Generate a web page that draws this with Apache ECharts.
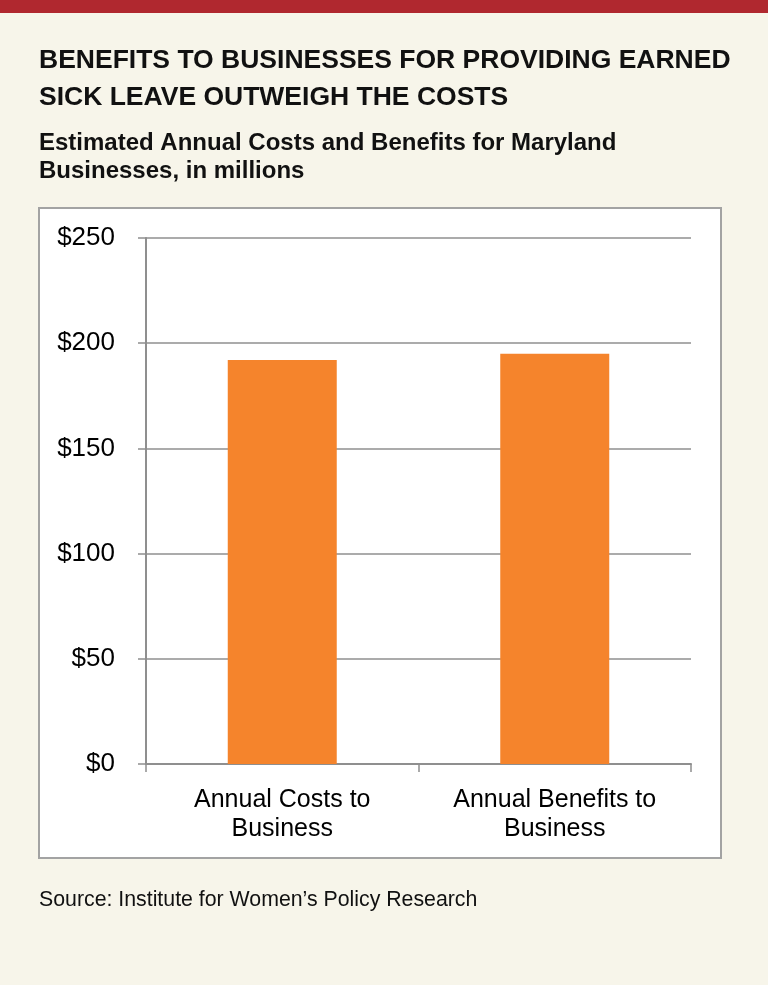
<!DOCTYPE html>
<html>
<head>
<meta charset="utf-8">
<script src="https://cdn.jsdelivr.net/npm/echarts@6/dist/echarts.min.js"></script>
<style>
  * { margin: 0; padding: 0; }
  html, body { width: 768px; height: 985px; background: #f7f5ea; overflow: hidden; }
  #renderDom { width: 768px; height: 985px; }
</style>
</head>
<body>
<div id="renderDom"></div>
<script>
// chart data
var categories = ["Annual Costs to\nBusiness", "Annual Benefits to\nBusiness"];
var values = [192, 195];
var yTicks = [0, 50, 100, 150, 200, 250];

var font = "'Liberation Sans', Arial, sans-serif";
var myChart = echarts.init(document.getElementById("renderDom"), null, { renderer: "canvas" });

var option = {
  backgroundColor: "#f7f5ea",
  animation: false,
  graphic: [
    { type: "rect", shape: { x: 0, y: 0, width: 768, height: 13 }, style: { fill: "#b0282f" }, z: -1 },
    { type: "rect", shape: { x: 39, y: 208, width: 682, height: 650 }, style: { fill: "#ffffff", stroke: "#a3a3a3", lineWidth: 2 }, z: -1 },
    {
      type: "text", left: 39, top: 42,
      style: {
        text: "BENEFITS TO BUSINESSES FOR PROVIDING EARNED\nSICK LEAVE OUTWEIGH THE COSTS",
        font: "bold 26.5px " + font, fill: "#111", lineHeight: 37
      }
    },
    {
      type: "text", left: 39, top: 129,
      style: {
        text: "Estimated Annual Costs and Benefits for Maryland\nBusinesses, in millions",
        font: "bold 24px " + font, fill: "#111", lineHeight: 28
      }
    },
    {
      type: "text", left: 39, top: 890,
      style: { text: "Source: Institute for Women\u2019s Policy Research", font: "21.3px " + font, fill: "#111" }
    }
  ],
  grid: { left: 146, right: 77, top: 238, bottom: 221, containLabel: false },
  xAxis: {
    type: "category",
    data: categories,
    axisLine: { lineStyle: { color: "#8f8f8f", width: 2 } },
    axisTick: { show: true, length: 8, lineStyle: { color: "#8f8f8f", width: 1.5 } },
    axisLabel: { color: "#000", fontSize: 25, fontFamily: font, lineHeight: 29, margin: 22 }
  },
  yAxis: {
    type: "value",
    min: yTicks[0],
    max: yTicks[yTicks.length - 1],
    interval: 50,
    axisLine: { show: true, lineStyle: { color: "#8f8f8f", width: 2 } },
    axisTick: { show: true, length: 8, lineStyle: { color: "#8f8f8f", width: 1.5 } },
    splitLine: { lineStyle: { color: "#8f8f8f", width: 1.5 } },
    axisLabel: {
      color: "#000", fontSize: 26, fontFamily: font, margin: 31,
      formatter: function (v) { return "$" + v; }
    }
  },
  series: [{
    type: "bar",
    data: values,
    barWidth: "40%",
    itemStyle: { color: "#f5842c" }
  }]
};

myChart.setOption(option);
</script>
</body>
</html>
